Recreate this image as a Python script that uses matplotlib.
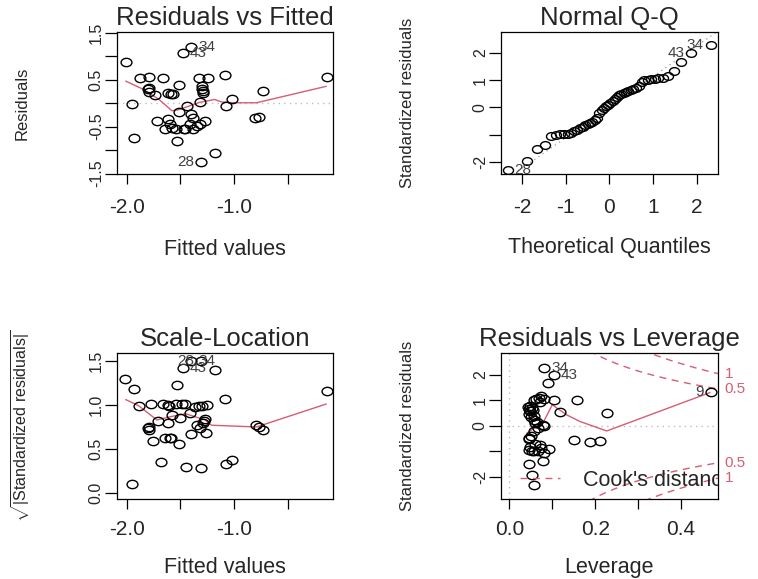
import matplotlib
matplotlib.use("Agg")
import matplotlib.pyplot as plt
import numpy as np
from statistics import NormalDist
from matplotlib.path import Path
from matplotlib.transforms import Affine2D
from matplotlib.lines import Line2D

# ---- Residuals vs Fitted ----
rf_fitted = [-2.01, -1.95, -1.93, -1.88, -1.79, -1.79, -1.79, -1.74, -1.66, -1.62,
             -1.59, -1.72, -1.62, -1.64, -1.58, -1.60, -1.54, -1.53, -1.51, -1.51,
             -1.46, -1.48, -1.40, -1.44, -1.40, -1.38, -1.41, -1.38, -1.33, -1.30,
             -1.29, -1.29, -1.32, -1.32, -1.27, -1.24, -1.31, -1.18, -1.08, -1.07,
             -1.02, -0.80, -0.77, -0.73, -0.13, -1.80, -1.57, -1.30, -1.47, -1.35]
rf_resid = [0.89, -0.01, -0.75, 0.53, 0.56, 0.33, 0.25, 0.18, 0.53, 0.21,
            0.19, -0.37, -0.33, -0.56, -0.53, -0.45, -0.56, -0.81, -0.19, 0.39,
            -0.56, 1.07, 1.19, -0.06, -0.24, -0.32, -0.45, -0.56, 0.54, 0.36,
            0.27, 0.22, 0.03, -0.45, -0.38, 0.54, -1.25, -1.07, 0.61, -0.06,
            0.08, -0.31, -0.29, 0.26, 0.55, 0.30, 0.20, 0.30, -0.55, -0.48]
rf_smooth_x = [-2.01, -1.85, -1.70, -1.58, -1.52, -1.32, -1.18, -1.12, -1.01, -0.79, -0.14]
rf_smooth_y = [0.47, 0.30, 0.08, -0.16, -0.14, 0.02, 0.08, 0.03, 0.01, 0.01, 0.36]
rf_label_idx = [22, 21, 36]
rf_label_txt = ["34", "43", "28"]
rf_label_side = ["right", "right", "left"]

# ---- Scale-Location ----
sl_fitted = [-2.02, -1.93, -1.95, -1.89, -1.78, -1.79, -1.79, -1.76, -1.71, -1.68,
             -1.66, -1.64, -1.62, -1.61, -1.60, -1.58, -1.54, -1.53, -1.51, -1.50,
             -1.48, -1.46, -1.45, -1.40, -1.40, -1.41, -1.36, -1.35, -1.32, -1.31,
             -1.31, -1.30, -1.28, -1.26, -1.25, -1.29, -1.18, -1.08, -1.07, -1.02,
             -0.79, -0.77, -0.73, -0.13, -1.80, -1.62, -1.33, -1.27, -1.59, -1.49]
sl_value = [1.29, 1.18, 0.10, 0.99, 1.01, 0.75, 0.72, 0.59, 0.82, 0.35,
            1.01, 0.63, 0.79, 0.99, 0.62, 0.89, 1.01, 1.23, 0.56, 0.85,
            1.42, 1.01, 0.30, 1.50, 0.67, 0.91, 0.98, 0.77, 0.74, 0.28,
            1.50, 0.99, 0.82, 0.68, 1.00, 0.80, 1.40, 1.07, 0.33, 0.37,
            0.77, 0.75, 0.71, 1.16, 0.74, 1.00, 0.99, 0.84, 0.63, 1.01]
sl_smooth_x = [-2.01, -1.89, -1.72, -1.58, -1.45, -1.27, -1.21, -0.79, -0.14]
sl_smooth_y = [1.06, 0.99, 0.83, 0.87, 0.90, 0.83, 0.77, 0.75, 1.01]
sl_label_idx = [23, 20, 30]
sl_label_txt = ["34", "43", "28"]
sl_label_side = ["right", "right", "left"]

# ---- Residuals vs Leverage (the Q-Q panel uses the same standardized residuals) ----
rl_stdres = [-2.31, -1.95, -1.51, -1.37, -1.05, -1.00, -0.99, -0.97, -0.96, -0.93,
             -0.88, -0.82, -0.76, -0.70, -0.64, -0.60, -0.56, -0.52, -0.46, -0.38,
             -0.22, -0.10, -0.02, 0.05, 0.10, 0.17, 0.24, 0.33, 0.40, 0.45,
             0.50, 0.54, 0.57, 0.61, 0.65, 0.69, 0.73, 0.78, 0.95, 1.01,
             1.02, 1.03, 1.04, 1.07, 1.10, 1.16, 1.33, 1.68, 2.01, 2.28]
rl_leverage = [0.057, 0.053, 0.045, 0.078, 0.080, 0.052, 0.066, 0.057, 0.046, 0.093,
               0.075, 0.048, 0.072, 0.060, 0.187, 0.212, 0.151, 0.045, 0.047, 0.050,
               0.057, 0.068, 0.080, 0.078, 0.060, 0.064, 0.057, 0.050, 0.057, 0.045,
               0.227, 0.117, 0.049, 0.055, 0.047, 0.052, 0.044, 0.048, 0.072, 0.058,
               0.103, 0.157, 0.081, 0.063, 0.070, 0.075, 0.469, 0.089, 0.103, 0.081]
rl_smooth_x = [0.041, 0.060, 0.080, 0.088, 0.100, 0.134, 0.165, 0.227, 0.467]
rl_smooth_y = [-0.29, -0.05, 0.17, 0.43, 0.83, 0.43, 0.17, -0.20, 1.31]
rl_label_idx = [49, 48, 46]
rl_label_txt = ["34", "43", "9"]
rl_label_side = ["right", "right", "left"]

qq_label_pos = [49, 48, 0]
qq_label_txt = ["34", "43", "28"]
qq_label_side = ["left", "left", "right"]

n_params = 4
cook_levels = [0.5, 1]

RED = "#D55E72"
TXT = "#262626"

plt.rcParams["font.family"] = ["Liberation Sans", "DejaVu Sans"]
plt.rcParams["mathtext.fontset"] = "custom"
plt.rcParams["mathtext.rm"] = "Liberation Sans"
plt.rcParams["mathtext.it"] = "Liberation Sans:italic"
plt.rcParams["axes.linewidth"] = 0.9

# R draws open circles; the picture is stretched sideways, so use a flat ring
ring = Path.unit_circle().transformed(Affine2D().scale(1.3, 1.0))


def draw_points(ax, x, y, ms=7.8):
    ax.plot(x, y, linestyle="none", marker=ring, ms=ms, mfc="none",
            mec="black", mew=1.0, zorder=3)


def label_points(ax, x, y, idx, txt, side):
    for i, t, s in zip(idx, txt, side):
        dx = 5 if s == "right" else -5
        ax.annotate(t, (x[i], y[i]), xytext=(dx, 0), textcoords="offset points",
                    ha="left" if s == "right" else "right", va="center",
                    fontsize=11, color="#404040", zorder=4)


def setup_axes(ax, title, xlabel, ylabel, xlim, ylim, xticks, xticklabels,
               yticks, yticklabels, xlab_y, ylab_x, xpad, ylab_size=12):
    ax.set_xlim(*xlim)
    ax.set_ylim(*ylim)
    ax.set_xticks(xticks)
    ax.set_xticklabels(xticklabels)
    ax.set_yticks(yticks)
    ax.set_yticklabels(yticklabels, rotation=90, va="center")
    ax.tick_params(axis="x", direction="out", length=7, width=0.9,
                   labelsize=15, pad=xpad, labelcolor=TXT)
    ax.tick_params(axis="y", direction="out", length=8.5, width=0.9,
                   labelsize=11.5, pad=1, labelcolor=TXT)
    ax.set_title(title, fontsize=18.5, pad=5, color=TXT)
    ax.set_xlabel(xlabel, fontsize=15.5, color=TXT)
    ax.set_ylabel(ylabel, fontsize=ylab_size, color=TXT)
    ax.xaxis.set_label_coords(0.5, xlab_y)
    ax.xaxis.label.set_va("center")
    ax.yaxis.set_label_coords(ylab_x, 0.5)
    ax.yaxis.label.set_va("center")


fig = plt.figure(figsize=(7.58, 5.79), dpi=100)
W, H = 758.0, 579.0
ax1 = fig.add_axes([117 / W, 1 - 174 / H, 216 / W, 142 / H])
ax2 = fig.add_axes([501 / W, 1 - 174 / H, 217 / W, 142 / H])
ax3 = fig.add_axes([117 / W, 1 - 499 / H, 216 / W, 146 / H])
ax4 = fig.add_axes([501 / W, 1 - 499 / H, 217 / W, 146 / H])

# Residuals vs Fitted
ax1.axhline(0, color="#BEBEBE", lw=1, linestyle=(0, (1, 3)), zorder=1)
ax1.plot(rf_smooth_x, rf_smooth_y, color=RED, lw=1, zorder=2)
draw_points(ax1, rf_fitted, rf_resid)
label_points(ax1, rf_fitted, rf_resid, rf_label_idx, rf_label_txt, rf_label_side)
setup_axes(ax1, "Residuals vs Fitted", "Fitted values", "Residuals",
           (-2.093, -0.075), (-1.51, 1.52),
           [-2.0, -1.5, -1.0, -0.5], ["-2.0", "", "-1.0", ""],
           [-1.5, -1.0, -0.5, 0, 0.5, 1.0, 1.5],
           ["-1.5", "", "-0.5", "", "0.5", "", "1.5"],
           -0.53, -0.44, 10)

# Normal Q-Q
qq_y = np.sort(rl_stdres)
n = len(qq_y)
qq_x = [NormalDist().inv_cdf((i + 0.5) / n) for i in range(n)]
q1, q3 = np.percentile(qq_y, [25, 75])
z1, z3 = NormalDist().inv_cdf(0.25), NormalDist().inv_cdf(0.75)
slope = (q3 - q1) / (z3 - z1)
icpt = q1 - slope * z1
ax2.axline((0, icpt), slope=slope, color="#9A9A9A", lw=0.9, linestyle=(0, (1, 3)), zorder=1)
draw_points(ax2, qq_x, qq_y, ms=7.2)
label_points(ax2, qq_x, qq_y, qq_label_pos, qq_label_txt, qq_label_side)
setup_axes(ax2, "Normal Q-Q", "Theoretical Quantiles", "Standardized residuals",
           (-2.48, 2.49), (-2.44, 2.77),
           [-2, -1, 0, 1, 2], ["-2", "-1", "0", "1", "2"],
           [-2, -1, 0, 1, 2], ["-2", "", "0", "1", "2"],
           -0.52, -0.4286, 10)

# Scale-Location
ax3.plot(sl_smooth_x, sl_smooth_y, color=RED, lw=1, zorder=2)
draw_points(ax3, sl_fitted, sl_value)
label_points(ax3, sl_fitted, sl_value, sl_label_idx, sl_label_txt, sl_label_side)
setup_axes(ax3, "Scale-Location", "Fitted values",
           r"$\sqrt{|\mathrm{Standardized\ residuals}|}$",
           (-2.093, -0.075), (-0.068, 1.59),
           [-2.0, -1.5, -1.0, -0.5], ["-2.0", "", "-1.0", ""],
           [0.0, 0.5, 1.0, 1.5], ["0.0", "0.5", "1.0", "1.5"],
           -0.47, -0.44, 8, ylab_size=11.5)

# Residuals vs Leverage
ax4.axhline(0, color="#BEBEBE", lw=1, linestyle=(0, (1, 3)), zorder=1)
ax4.axvline(0, color="#BEBEBE", lw=1, linestyle=(0, (1, 3)), zorder=1)
hmax = 0.486
hh = np.linspace(0.005, hmax, 300)
for lev in cook_levels:
    cy = np.sqrt(lev * n_params * (1 - hh) / hh)
    ax4.plot(hh, cy, color=RED, lw=1, linestyle=(0, (5, 4)), zorder=1)
    ax4.plot(hh, -cy, color=RED, lw=1, linestyle=(0, (5, 4)), zorder=1)
    yl = np.sqrt(lev * n_params * (1 - hmax) / hmax)
    for sgn in (1, -1):
        ax4.text(1.03, sgn * yl, "%g" % lev, transform=ax4.get_yaxis_transform(),
                 ha="left", va="center", fontsize=11, color=RED, clip_on=False)
ax4.plot(rl_smooth_x, rl_smooth_y, color=RED, lw=1, zorder=2)
draw_points(ax4, rl_leverage, rl_stdres)
label_points(ax4, rl_leverage, rl_stdres, rl_label_idx, rl_label_txt, rl_label_side)
setup_axes(ax4, "Residuals vs Leverage", "Leverage", "Standardized residuals",
           (-0.0193, hmax), (-2.88, 2.87),
           [0.0, 0.1, 0.2, 0.3, 0.4], ["0.0", "", "0.2", "", "0.4"],
           [-2, -1, 0, 1, 2], ["-2", "", "0", "1", "2"],
           -0.47, -0.4286, 8)
cook_handle = Line2D([], [], color=RED, lw=1, linestyle=(0, (5, 4)))
leg = ax4.legend([cook_handle], ["Cook's distance"], loc="center left",
                 bbox_to_anchor=(0.0876, 0.13), frameon=False, fontsize=15.5,
                 handlelength=1.86, handletextpad=1.05, borderpad=0, borderaxespad=0)
for t in leg.get_texts():
    t.set_color(TXT)
    t.set_clip_on(True)
    t.set_clip_box(ax4.bbox)

fig.savefig("out.png", dpi=100)
